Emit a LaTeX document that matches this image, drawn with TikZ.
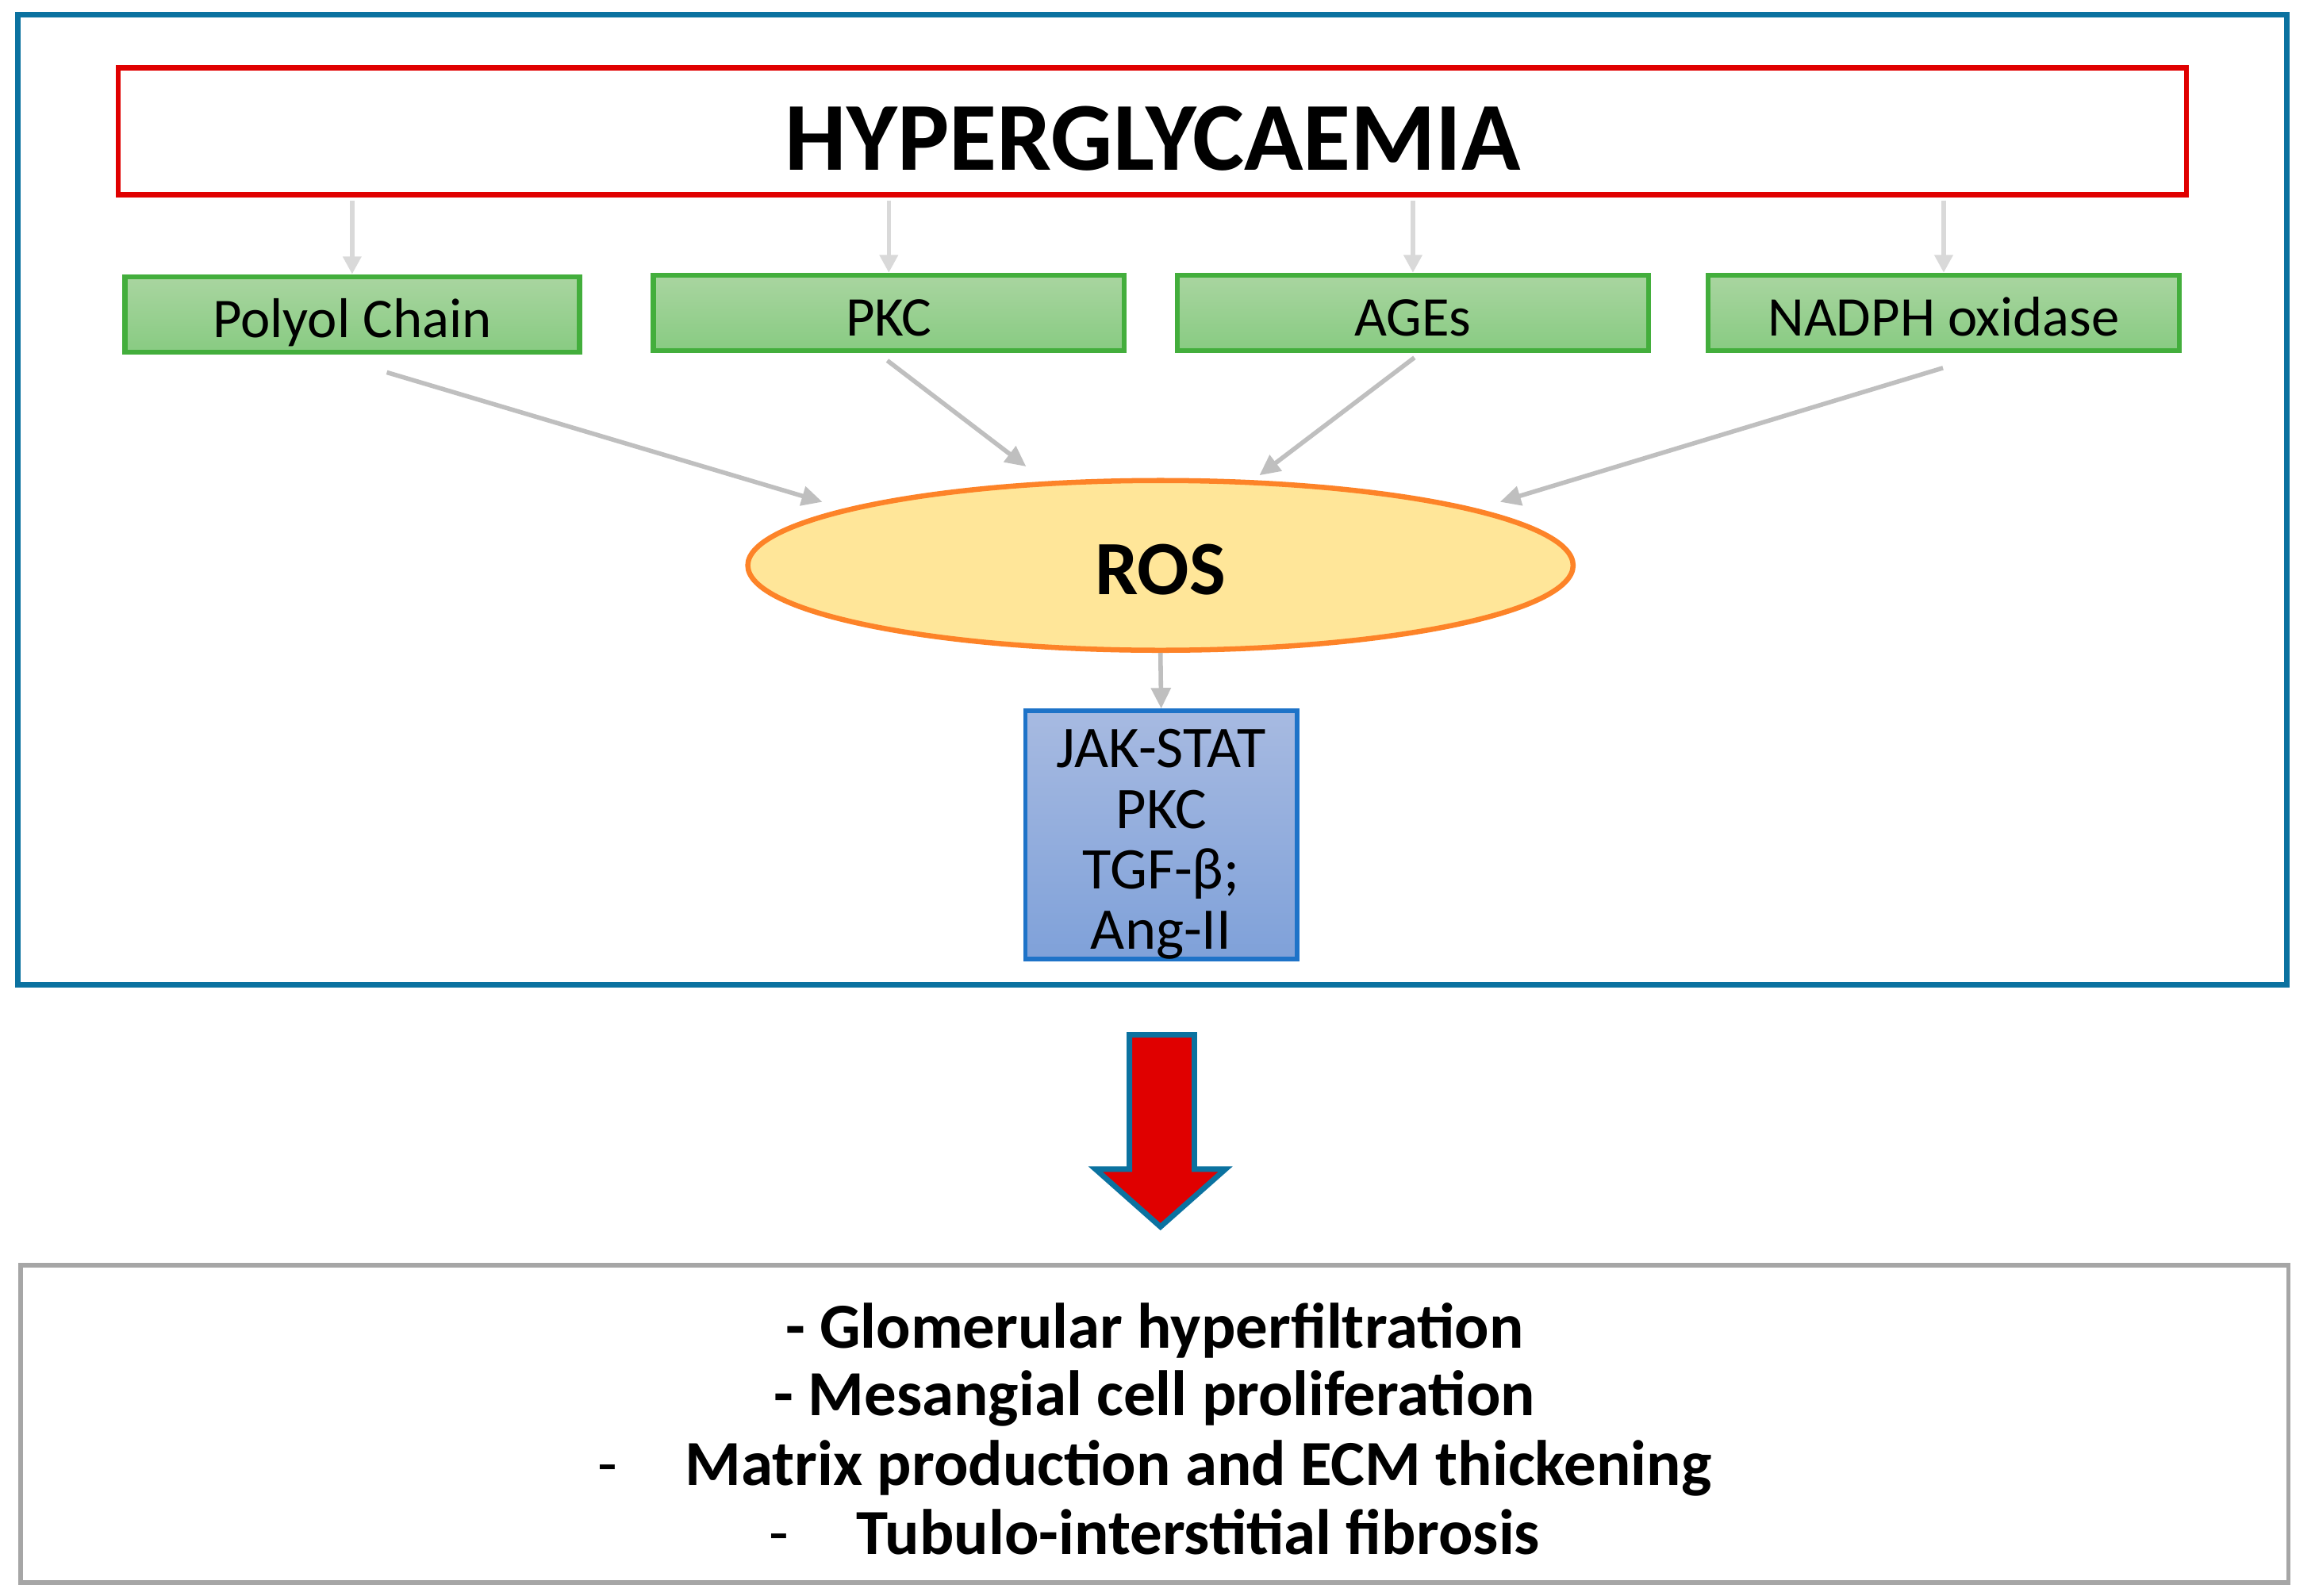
\documentclass[tikz,border=0pt]{standalone}
\usepackage{fontspec}
\setmainfont{Carlito}
\usetikzlibrary{arrows.meta,shapes.geometric,calc}
\definecolor{frameblue}{HTML}{0B72A0}
\definecolor{hyperred}{HTML}{E00000}
\definecolor{greenborder}{HTML}{43AE3C}
\definecolor{greentop}{HTML}{A9D5A0}
\definecolor{greenbot}{HTML}{88CB82}
\definecolor{vgrey}{HTML}{D9D9D9}
\definecolor{dgrey}{HTML}{BFBFBF}
\definecolor{rosfill}{HTML}{FFE699}
\definecolor{rosborder}{HTML}{FD8328}
\definecolor{bluetop}{HTML}{A7BAE1}
\definecolor{bluebot}{HTML}{7FA1D9}
\definecolor{blueborder}{HTML}{1E73C8}
\definecolor{boxgrey}{HTML}{A6A6A6}
\begin{document}
\begin{tikzpicture}[x=1pt,y=-1pt,
  greenbox/.style={draw=greenborder, line width=3.5pt, top color=greentop, bottom color=greenbot,
    minimum height=51pt, inner sep=0pt, font=\fontsize{38}{42}\selectfont,
    text height=31pt, text depth=0pt},
  varrow/.style={draw=vgrey, line width=3pt, -{Triangle[width=12pt,length=12pt]}},
  darrow/.style={draw=dgrey, line width=3pt, -{Triangle[width=13pt,length=14pt]}},
  rosnode/.style={ellipse, draw=rosborder, fill=rosfill, line width=3.5pt, minimum width=559pt,
    minimum height=115pt, inner sep=0pt, font=\fontsize{52}{56}\selectfont\bfseries,
    text height=39pt, text depth=0pt},
  jakbox/.style={draw=blueborder, line width=3pt, top color=bluetop, bottom color=bluebot,
    minimum width=184pt, minimum height=168pt, inner sep=0pt},
  outtext/.style={anchor=base, font=\fontsize{43.5}{46}\selectfont\bfseries, inner sep=0pt}
]
\useasboundingbox (0,0) rectangle (1568,1081);
\fill[white] (0,0) rectangle (1568,1081);

% outer frame
\draw[frameblue, line width=4pt] (12,10) rectangle (1549,667);

% hyperglycaemia
\node[draw=hyperred, line width=3.5pt, minimum width=1401pt, minimum height=86pt, inner sep=0pt] (hyper) at (780.5,89) {};
\node[font=\fontsize{66}{70}\selectfont\bfseries, inner sep=0pt] (hypertext) at (781,94) {HYPERGLYCAEMIA};

% green boxes
\node[greenbox, minimum width=308pt] (poly) at (238.5,213) {Polyol Chain};
\node[greenbox, minimum width=319pt] (pkc) at (602,212) {PKC};
\node[greenbox, minimum width=319pt] (ages) at (957,212) {AGEs};
\node[greenbox, minimum width=319pt] (nadph) at (1316.5,212) {NADPH oxidase};

% vertical arrows
\foreach \n in {poly,pkc,ages,nadph}
  \draw[varrow, shorten <=2pt] (\n.north |- hyper.south) -- (\n.north);

% ROS
\node[rosnode] (ros) at (786,383) {ROS};

% diagonal arrows
\draw[darrow] ($(poly.south)+(23.5,12)$) -- ($(ros.center)+(-229,-43)$);
\draw[darrow] ($(pkc.south)+(-1,5)$) -- ($(ros.center)+(-91,-67)$);
\draw[darrow] ($(ages.south)+(1,3)$) -- ($(ros.center)+(67,-61)$);
\draw[darrow] ($(nadph.south)+(-0.5,10)$) -- ($(ros.center)+(230,-43)$);

% JAK box
\node[jakbox] (jak) at (786.5,565.5) {};
\node[align=center, font=\fontsize{40}{41}\selectfont, inner sep=0pt, anchor=base] (jaktext) at (786.5,643)
  {JAK-STAT\\PKC\\TGF-β;\\Ang-II};
\draw[darrow] (ros.south) -- (jak.north);

% big red arrow
\draw[frameblue, fill=hyperred, line width=3.7pt]
  (765,701) -- (809,701) -- (809,792) -- (830,792) -- (786,831) -- (742,792) -- (765,792) -- cycle;

% bottom box
\draw[boxgrey, line width=3pt] (14,857) rectangle (1550,1072);
\node[outtext] (l1) at (782,913) {- Glomerular hyperfiltration};
\node[outtext] (l2) at (782,959) {- Mesangial cell proliferation};
\node[outtext] (l3) at (782,1006) {{\mdseries -}\hspace{46pt}Matrix production and ECM thickening};
\node[outtext] (l4) at (782,1053) {{\mdseries -}\hspace{46pt}Tubulo-interstitial fibrosis};
\end{tikzpicture}
\end{document}
